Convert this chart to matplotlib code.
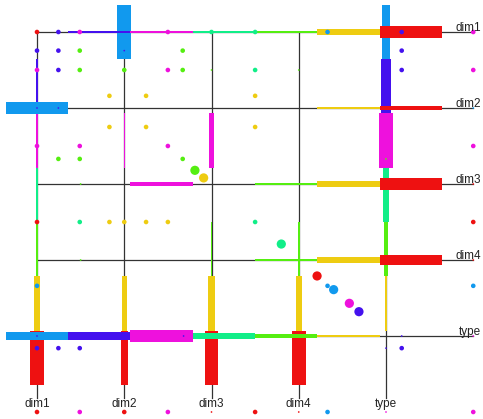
import matplotlib.pyplot as plt

# 维度名称
dims = ["dim1", "dim2", "dim3", "dim4", "type"]

# 七个类别颜色
cat_colors = {"b": "#1199ee", "p": "#4411ee", "m": "#ee11dd", "s": "#11ee88",
              "l": "#55ee11", "y": "#eecc11", "r": "#ee1111"}
cat_order = ["b", "p", "m", "s", "l", "y", "r"]

# 每条横线上各类别色段的粗细
row_thickness = [
    [0, 0.026, 0.026, 0.026, 0.026, 0.078, 0.150],
    [0.152, 0.012, 0.012, 0, 0.012, 0.018, 0.062],
    [0, 0, 0.056, 0, 0.018, 0.078, 0.155],
    [0, 0, 0, 0, 0.018, 0.072, 0.140],
    [0.096, 0.100, 0.148, 0.070, 0.052, 0.018, 0],
]
# 每条竖线上各类别色段的粗细
col_thickness = [
    [0, 0.024, 0.024, 0.024, 0.024, 0.080, 0.150],
    [0.158, 0, 0.016, 0, 0, 0.058, 0.076],
    [0, 0, 0.046, 0, 0.022, 0.077, 0.156],
    [0, 0, 0, 0, 0.022, 0.069, 0.156],
    [0.095, 0.126, 0.156, 0.062, 0.040, 0.022, 0],
]

# 小点
small_u = [0, 0.245, 0.49, 1.5, 2, 2.5, 3.33, 4.18, 5,
           0, 0.245, 0.49, 1.67, 4.18,
           0, 0.245, 0.49, 1.0, 1.5, 1.67, 2.5, 4.18, 5,
           0.83, 1.25, 2.5, 0.83, 1.25, 2.5,
           0, 0.49, 1.5, 5, 0.245, 0.49, 1.67,
           0, 0.49, 0.83, 1.0, 1.25, 1.5, 2.5, 5,
           0, 3.33, 5, 0, 0.245, 0.49, 4.18,
           0, 0.49, 1, 1.5, 2.5, 3.33, 5]
small_v = [0, 0, 0, 0, 0, 0, 0, 0, 0,
           0.245, 0.245, 0.245, 0.245, 0.245,
           0.5, 0.5, 0.5, 0.5, 0.5, 0.5, 0.5, 0.5, 0.5,
           0.84, 0.84, 0.84, 1.25, 1.25, 1.25,
           1.5, 1.5, 1.5, 1.5, 1.67, 1.67, 1.67,
           2.5, 2.5, 2.5, 2.5, 2.5, 2.5, 2.5, 2.5,
           3.34, 3.34, 3.34, 4.16, 4.16, 4.16, 4.16,
           5, 5, 5, 5, 5, 5, 5]
small_c = ["r", "p", "m", "m", "s", "s", "b", "p", "m",
           "p", "p", "l", "l", "p",
           "m", "p", "l", "l", "m", "l", "s", "p", "m",
           "y", "y", "y", "y", "y", "y",
           "m", "m", "m", "m", "l", "l", "l",
           "r", "s", "y", "y", "y", "y", "s", "r",
           "b", "b", "b", "p", "p", "p", "p",
           "r", "m", "r", "m", "r", "b", "m"]

# 大点（对角线）
big_u = [1.81, 1.91, 2.80, 3.21, 3.40, 3.58, 3.69]
big_v = [1.82, 1.92, 2.79, 3.21, 3.39, 3.57, 3.68]
big_c = ["l", "y", "s", "r", "b", "m", "p"]

# 极小点
tiny_u = [1.0, 0, 0.245, 2.0, 0.5, 3.0, 0.5, 4.0, 0.84, 4.0, 0, 0.84, 1.68, 4.18, 4.0,
          2, 3, 4, 5, 5, 5, 5]
tiny_v = [0.245, 1.0, 1.0, 0.5, 2.0, 0.5, 3.0, 0.84, 4.0, 1.67, 4.0, 4.0, 4.0, 4.0, 4.16,
          5, 5, 5, 1, 2, 3, 4]
tiny_c = ["p", "p", "p", "l", "l", "l", "l", "p", "p", "l", "p", "p", "p", "p", "p",
          "r", "r", "m", "b", "r", "r", "m"]

seg_len = 5 / 7
seg_start = -5 / 14

fig = plt.figure(figsize=(4.83, 4.19), dpi=100)
ax = fig.add_axes([0, 0, 1, 1])
ax.set_xlim(-37 / 87.25, 446 / 87.25)
ax.set_ylim(387 / 76, -32 / 76)
ax.axis("off")

# 网格线
for i in range(len(dims)):
    ax.plot([0, 5.0], [i, i], color="#333333", lw=0.9, zorder=1)
    ax.plot([i, i], [0, 4.82], color="#333333", lw=0.9, zorder=1)

# 色段：先画竖线上的，再画横线上的
for i in range(len(dims)):
    for k, key in enumerate(cat_order):
        t = col_thickness[i][k]
        if t > 0:
            ax.bar(i, seg_len, bottom=seg_start + k * seg_len, width=t,
                   color=cat_colors[key], linewidth=0, zorder=2)
for i in range(len(dims)):
    for k, key in enumerate(cat_order):
        t = row_thickness[i][k]
        if t > 0:
            ax.barh(i, seg_len, left=seg_start + k * seg_len, height=t,
                    color=cat_colors[key], linewidth=0, zorder=2.5)

# 散点
ax.scatter(small_u, small_v, s=11, c=[cat_colors[c] for c in small_c],
           linewidths=0, zorder=3)
ax.scatter(big_u, big_v, s=44, c=[cat_colors[c] for c in big_c],
           linewidths=0, zorder=3)
ax.scatter(tiny_u, tiny_v, s=1.5, c=[cat_colors[c] for c in tiny_c],
           linewidths=0, zorder=3)

# 标签
for i, name in enumerate(dims):
    ax.text(5.09, i - 0.01, name, ha="right", va="baseline", fontsize=8.5,
            family="Liberation Sans", color="#222222", zorder=4)
    ax.text(i, 4.89, name, ha="center", va="center", fontsize=8.5,
            family="Liberation Sans", color="#222222", zorder=4)

fig.savefig("out.png", dpi=100)
